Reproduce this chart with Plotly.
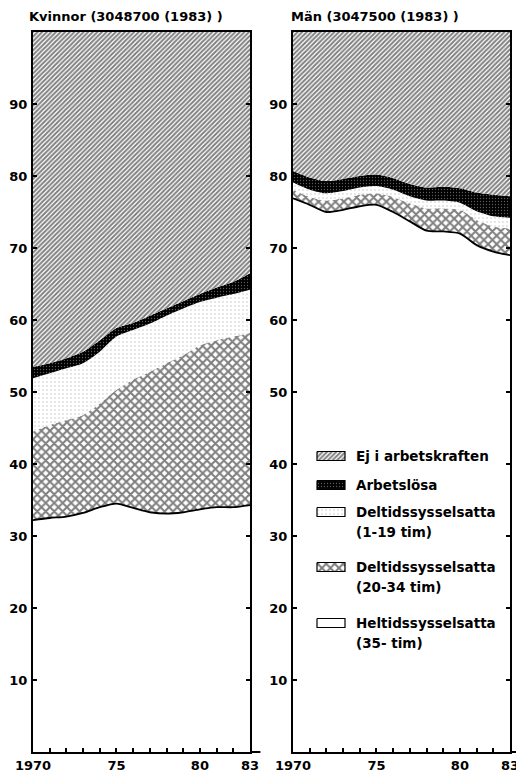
import plotly.graph_objects as go

# ---------------- data ----------------
years = list(range(1970, 1984))
year_ticktext = ["1970", "", "", "", "", "75", "", "", "", "", "80", "", "", "83"]
y_tickvals = [10, 20, 30, 40, 50, 60, 70, 80, 90]

# Kvinnor (percent of population)
w_heltid = [32.2, 32.5, 32.7, 33.2, 34.0, 34.5, 33.9, 33.3, 33.1, 33.3, 33.7, 34.0, 34.0, 34.3]
w_deltid_20_34 = [12.3, 12.9, 13.4, 13.6, 14.4, 15.8, 17.8, 19.5, 20.9, 21.8, 22.8, 23.2, 23.7, 23.9]
w_deltid_1_19 = [7.4, 7.2, 7.2, 7.2, 7.2, 7.4, 6.9, 6.7, 6.6, 6.5, 6.0, 5.9, 5.9, 6.0]
w_arbetslosa = [1.6, 1.4, 1.4, 1.6, 1.6, 1.2, 1.0, 1.1, 1.0, 1.0, 1.1, 1.4, 1.7, 2.3]
w_ej = [46.5, 46.0, 45.3, 44.4, 42.8, 41.1, 40.4, 39.4, 38.4, 37.4, 36.4, 35.5, 34.7, 33.5]

# Män
m_heltid = [76.9, 76.0, 75.0, 75.3, 75.8, 76.0, 75.0, 73.7, 72.4, 72.3, 72.0, 70.4, 69.5, 69.0]
m_deltid_20_34 = [1.2, 1.1, 1.6, 1.6, 1.6, 1.6, 2.1, 2.5, 3.1, 3.2, 3.3, 3.5, 3.5, 3.7]
m_deltid_1_19 = [1.0, 1.0, 1.0, 1.0, 1.0, 1.0, 1.0, 1.0, 1.1, 1.1, 1.0, 1.2, 1.4, 1.5]
m_arbetslosa = [1.6, 1.7, 1.7, 1.7, 1.6, 1.6, 1.6, 1.7, 1.8, 1.9, 2.0, 2.6, 3.0, 3.0]
m_ej = [19.3, 20.2, 20.7, 20.4, 20.0, 19.8, 20.3, 21.1, 21.6, 21.5, 21.7, 22.3, 22.6, 22.8]

titles = ["Kvinnor (3048700 (1983) )", "Män (3047500 (1983) )"]
legend_labels = [
    ["Ej i arbetskraften"],
    ["Arbetslösa"],
    ["Deltidssysselsatta", "(1-19 tim)"],
    ["Deltidssysselsatta", "(20-34 tim)"],
    ["Heltidssysselsatta", "(35- tim)"],
]

# ---------------- layout geometry (screen pixels) ----------------
SW, SH = 524, 773          # browser window
OFF = 8                    # default page margin of the html body
W, H = SW - OFF, SH - OFF  # figure size


def fx(px):  # screen x -> paper fraction
    return (px - OFF) / W


def fy(py):  # screen y -> paper fraction (from bottom)
    return 1 - (py - OFF) / H


FONT = "DejaVu Sans"
patterns = {
    "ej": dict(shape="/", fgcolor="black", bgcolor="white", size=3.25, solidity=0.6),
    "arb": dict(shape=".", fgcolor="#b5b5b5", bgcolor="black", size=3, solidity=0.15),
    "d1": dict(shape=".", fgcolor="#777777", bgcolor="white", size=4, solidity=0.09),
    "d20": dict(shape="x", fgcolor="black", bgcolor="white", size=6.0, solidity=0.56),
    "hel": dict(shape="", fgcolor="black", bgcolor="white", size=8, solidity=0.0),
}

fig = go.Figure()


def add_panel(xa, ya, hel, d20, d1, arb, ej):
    layers = [
        (hel, "hel", 1.8),
        (d20, "d20", 0),
        (d1, "d1", 0),
        (arb, "arb", 0),
        (ej, "ej", 0),
    ]
    for vals, key, lw in layers:
        pat = patterns[key]
        fig.add_trace(go.Scatter(
            x=years, y=vals, xaxis=xa, yaxis=ya,
            stackgroup=xa, mode="lines",
            line=dict(color="black", width=lw, shape="spline", smoothing=0.7),
            fillcolor=pat["bgcolor"],
            fillpattern=pat if pat["shape"] else None,
            showlegend=False, hoverinfo="skip",
        ))


add_panel("x", "y", w_heltid, w_deltid_20_34, w_deltid_1_19, w_arbetslosa, w_ej)
add_panel("x2", "y2", m_heltid, m_deltid_20_34, m_deltid_1_19, m_arbetslosa, m_ej)

# ---------------- custom legend (overlay axis in screen pixels) ----------------
leg_keys = ["ej", "arb", "d1", "d20", "hel"]
leg_centers = [456, 485, 512, 567, 623]
sw_x0, sw_x1, sw_h = 317, 345, 9
text_x = 354
line_gap = 20
annotations = []
for key, yc, lines in zip(leg_keys, leg_centers, legend_labels):
    pat = patterns[key]
    y0, y1 = yc - sw_h / 2, yc + sw_h / 2
    fig.add_trace(go.Scatter(
        x=[sw_x0, sw_x1, sw_x1, sw_x0, sw_x0], y=[y0, y0, y1, y1, y0],
        xaxis="x3", yaxis="y3", mode="lines", fill="toself",
        line=dict(color="black", width=1.2),
        fillcolor=pat["bgcolor"],
        fillpattern=pat if pat["shape"] else None,
        showlegend=False, hoverinfo="skip",
    ))
    for i, t in enumerate(lines):
        annotations.append(dict(
            x=text_x, y=yc + i * line_gap, xref="x3", yref="y3",
            text=t, showarrow=False, xanchor="left", yanchor="middle",
            font=dict(family=FONT, size=13.5, color="black", weight="bold"),
        ))

# titles
for xpx, t in zip([27, 289], titles):
    annotations.append(dict(
        x=xpx, y=16, xref="x3", yref="y3", text=t,
        showarrow=False, xanchor="left", yanchor="middle",
        font=dict(family=FONT, size=13, color="black", weight="bold"),
    ))

ydom = [fy(752), fy(32)]
axis_common = dict(
    showline=True, linecolor="black", linewidth=2,
    ticks="inside", ticklen=4, tickwidth=1.5, tickcolor="black",
    showgrid=False, zeroline=False, automargin=False,
    tickfont=dict(family=FONT, size=13, color="black", weight="bold"),
)
xcommon = dict(axis_common, range=[1970, 1983], tickvals=years, ticktext=year_ticktext,
               mirror=True, ticklabelstandoff=0)
ycommon = dict(axis_common, range=[0, 100], tickvals=y_tickvals, mirror="ticks",
               domain=ydom, ticklabelstandoff=1)

shapes = []
for xa, ya in [("x", "y"), ("x2", "y2")]:
    shapes.append(dict(type="line", xref=f"{xa} domain", yref=f"{ya} domain",
                       x0=1, x1=1.048, y0=0, y1=0, line=dict(color="black", width=2)))

fig.update_layout(
    width=W, height=H,
    margin=dict(l=0, r=0, t=0, b=0, pad=0, autoexpand=False),
    paper_bgcolor="white", plot_bgcolor="rgba(0,0,0,0)",
    xaxis=dict(xcommon, domain=[fx(33), fx(250)], anchor="y"),
    yaxis=dict(ycommon, anchor="x"),
    xaxis2=dict(xcommon, domain=[fx(293), fx(510)], anchor="y2"),
    yaxis2=dict(ycommon, anchor="x2"),
    xaxis3=dict(domain=[0, 1], range=[OFF, SW], visible=False, anchor="y3", fixedrange=True),
    yaxis3=dict(domain=[0, 1], range=[SH, OFF], visible=False, anchor="x3", fixedrange=True),
    annotations=annotations,
    shapes=shapes,
    showlegend=False,
)

fig.write_html("out.html")
